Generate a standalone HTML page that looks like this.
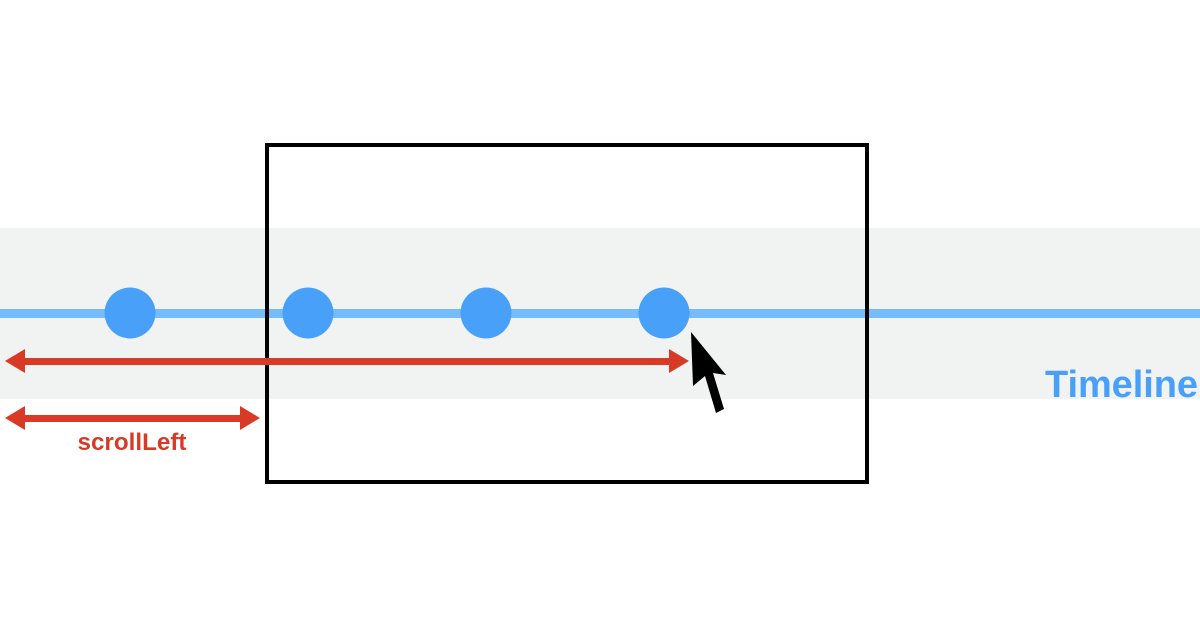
<!DOCTYPE html>
<html><head><meta charset="utf-8"><style>html,body{margin:0;padding:0;background:#fff}svg{display:block}</style></head>
<body>
<svg width="1200" height="627" viewBox="0 0 1200 627" xmlns="http://www.w3.org/2000/svg">
<rect x="0" y="0" width="1200" height="627" fill="#fff"/>
<rect x="0" y="228" width="1200" height="171" fill="#f1f2f2"/>
<rect x="0" y="309" width="1200" height="9" fill="#74bcfb"/>
<g fill="#48a0f8">
<circle cx="130" cy="313" r="25.5"/>
<circle cx="308" cy="313" r="25.5"/>
<circle cx="486" cy="313" r="25.5"/>
<circle cx="664" cy="313" r="25.5"/>
</g>
<rect x="267" y="145" width="600" height="337" fill="none" stroke="#000" stroke-width="4"/>
<g fill="#d93a26">
<rect x="22" y="358" width="650" height="7"/>
<polygon points="5,361 25,349 25,373"/>
<polygon points="689,361 669,349 669,373"/>
<rect x="22" y="415" width="220" height="7"/>
<polygon points="5,418 25,406 25,430"/>
<polygon points="260,418 240,406 240,430"/>
</g>
<text x="132" y="450" text-anchor="middle" font-family="Liberation Sans, sans-serif" font-weight="bold" font-size="24" fill="#d93a26" textLength="109" lengthAdjust="spacingAndGlyphs">scrollLeft</text>
<text x="1045" y="397" font-family="Liberation Sans, sans-serif" font-weight="bold" font-size="38" fill="#48a0f8" textLength="153">Timeline</text>
<polygon points="691,332 693,386 705,376 716,413 724,409 713,373 726,375" fill="#000"/>
</svg>
</body></html>
